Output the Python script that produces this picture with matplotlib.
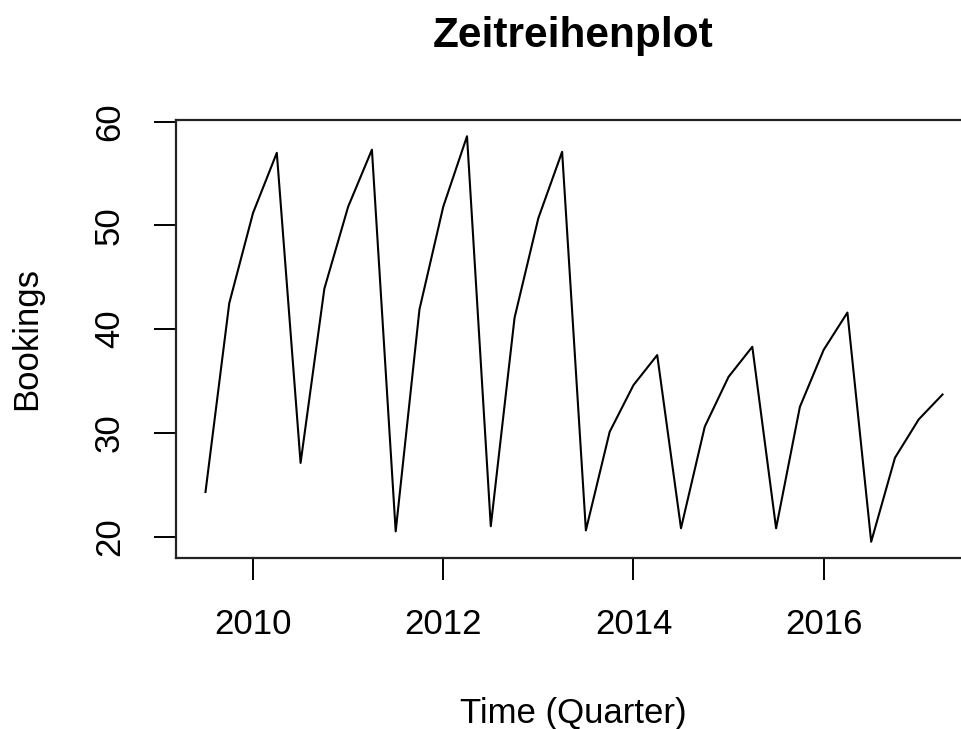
import matplotlib
matplotlib.use("Agg")
import matplotlib.pyplot as plt
import numpy as np

# quarterly bookings, 2009 Q3 .. 2017 Q2
start_year = 2009.5
bookings = [24.3, 42.5, 51.2, 57.0,
            27.1, 43.9, 51.8, 57.3,
            20.5, 41.9, 51.8, 58.6,
            21.0, 41.1, 50.7, 57.1,
            20.6, 30.1, 34.6, 37.5,
            20.8, 30.6, 35.4, 38.3,
            20.8, 32.5, 38.0, 41.6,
            19.5, 27.6, 31.3, 33.7]
x_ticks = [2010, 2012, 2014, 2016]
y_ticks = [20, 30, 40, 50, 60]

time = start_year + np.arange(len(bookings)) * 0.25

plt.rcParams['font.family'] = ['Liberation Sans', 'DejaVu Sans']

W, H = 962, 729
fig = plt.figure(figsize=(W / 100, H / 100), dpi=100)
# plot region in pixels (R style box, right edge cut off by the image)
left, right, top, bottom = 176, 972, 120, 558
ax = fig.add_axes([left / W, 1 - bottom / H, (right - left) / W, (bottom - top) / H])

ax.plot(time, bookings, color='black', lw=1.5)

# R-like 4% padding
def padded(lo, hi):
    d = (hi - lo) * 0.04
    return lo - d, hi + d

ax.set_xlim(*padded(time.min(), time.max()))
ax.set_ylim(*padded(min(bookings), max(bookings)))

ax.set_xticks(x_ticks)
ax.set_yticks(y_ticks)
ax.tick_params(direction='out', length=16, width=1.4, labelsize=25, pad=20, colors='black')
for lab in ax.get_yticklabels():
    lab.set_rotation(90)
    lab.set_va('center')

for s in ax.spines.values():
    s.set_linewidth(1.6)
    s.set_color('#222222')

fig.text(573 / W, 1 - 47 / H, 'Zeitreihenplot', ha='center', va='baseline',
         fontsize=30.5, fontweight='bold')
fig.text(573 / W, 1 - 723 / H, 'Time (Quarter)', ha='center', va='baseline', fontsize=25)
fig.text(27 / W, 1 - 339 / H, 'Bookings', ha='center', va='center', rotation=90, fontsize=25)

fig.savefig('out.png', dpi=100)
